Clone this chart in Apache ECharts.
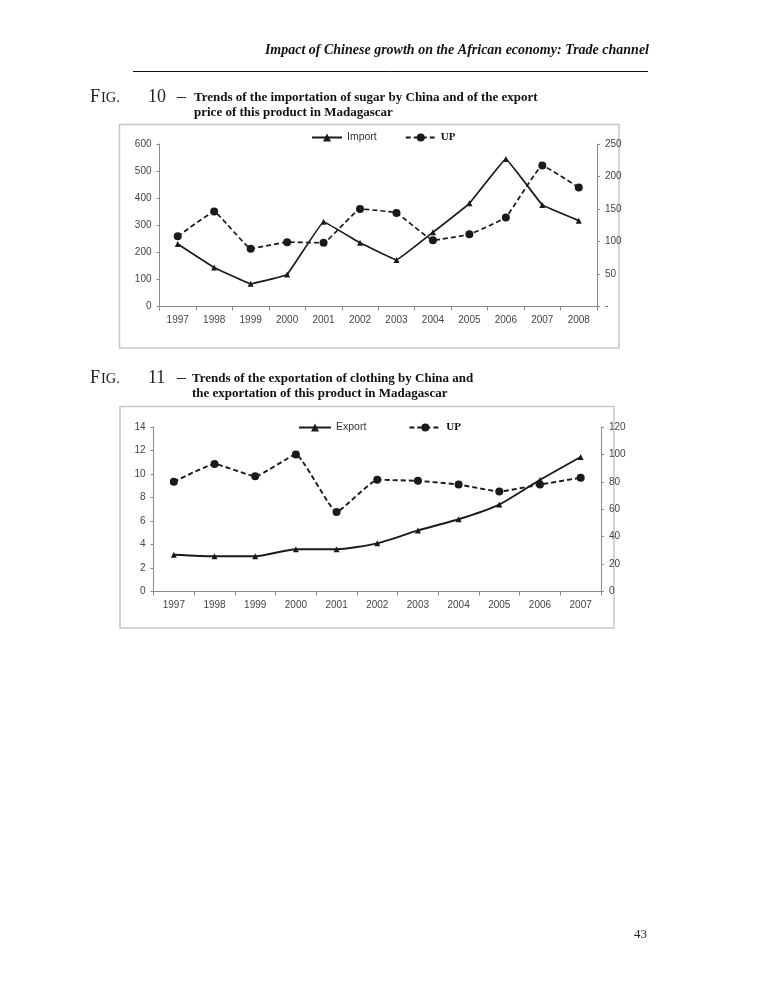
<!DOCTYPE html>
<html>
<head>
<meta charset="utf-8">
<script src="https://cdn.jsdelivr.net/npm/echarts@6/dist/echarts.min.js"></script>
<style>
html,body{margin:0;padding:0;background:#fff;}
#c{width:765px;height:990px;}
</style>
</head>
<body>
<div id="c"></div>
<script>
// ---- Data ----
const years1 = ['1997','1998','1999','2000','2001','2002','2003','2004','2005','2006','2007','2008'];
const importSugar = [231,144,84,118,313,235,172,274,381,545,375,317];
const upSugar = [108,146,89,99,98,150,144,102,111,137,217,183];

const years2 = ['1997','1998','1999','2000','2001','2002','2003','2004','2005','2006','2007'];
const exportClothing = [3.13,3.0,3.0,3.6,3.6,4.1,5.2,6.15,7.4,9.5,11.45];
const upClothing = [80,93,84,100,58,81.5,80.7,78,73,78,83];

const leftTicks1 = [0,100,200,300,400,500,600];
const rightTicks1 = [0,50,100,150,200,250];
const leftTicks2 = [0,2,4,6,8,10,12,14];
const rightTicks2 = [0,20,40,60,80,100,120];

// ---- Styles ----
const axisGray = '#8a8a8a';
const labelColor = '#444';
const labelFont = 'Liberation Sans';
const lineColor = '#1a1a1a';

function valAxis(gridIndex, ticks, position, fmt){
  return {
    type:'value', gridIndex, position,
    min: ticks[0], max: ticks[ticks.length-1], interval: ticks[1]-ticks[0],
    axisLine:{show:true, lineStyle:{color:axisGray, width:1}},
    axisTick:{show:true, length:3, lineStyle:{color:axisGray}},
    splitLine:{show:false},
    axisLabel:{color:labelColor, fontFamily:labelFont, fontSize:10, margin:8, formatter: fmt}
  };
}
function catAxis(gridIndex, cats){
  return {
    type:'category', gridIndex, data:cats, boundaryGap:true,
    axisLine:{show:true, lineStyle:{color:axisGray, width:1}},
    axisTick:{show:true, length:4, alignWithLabel:false, lineStyle:{color:axisGray}},
    axisLabel:{color:labelColor, fontFamily:labelFont, fontSize:10, margin:9}
  };
}
const legendRich = {
  s:{fontFamily:'Liberation Sans', fontSize:10.5, color:'#333'},
  t:{fontFamily:'Liberation Serif', fontSize:11, fontWeight:'bold', color:'#111'}
};
function legendFmt(n){
  if (n.indexOf('UP')===0) return '{t|UP}';
  return '{s|'+n+'}';
}
const serif = '"Liberation Serif"';
function figLabel(num, top){
  return [
    {type:'text', left:90, top:top, style:{text:'F', font:'18px '+serif, fill:'#222'}},
    {type:'text', left:101, top:top+3, style:{text:'IG.', font:'14.5px '+serif, fill:'#222'}},
    {type:'text', left:148, top:top, style:{text:num, font:'18px '+serif, fill:'#222'}},
    {type:'text', left:177, top:top, style:{text:'–', font:'18px '+serif, fill:'#222'}}
  ];
}

const chart = echarts.init(document.getElementById('c'), null, {renderer:'canvas'});
const option = {
  backgroundColor:'#fff',
  animation:false,
  grid:[
    {left:159.5, right:168, top:144, bottom:683.5},
    {left:153.5, right:164, top:427, bottom:398.5}
  ],
  legend:[
    {left:311, top:132, padding:0, itemWidth:30, itemHeight:10, itemGap:28, data:['Import','UP'],
     formatter:legendFmt, textStyle:{rich:legendRich}},
    {left:298, top:422, padding:0, itemWidth:32, itemHeight:10, itemGap:42, data:['Export','UP2'],
     formatter:legendFmt, textStyle:{rich:legendRich}}
  ],
  xAxis:[catAxis(0, years1), catAxis(1, years2)],
  yAxis:[
    valAxis(0, leftTicks1, 'left'),
    valAxis(0, rightTicks1, 'right', v => v===0 ? '-' : String(v)),
    valAxis(1, leftTicks2, 'left'),
    valAxis(1, rightTicks2, 'right')
  ],
  series:[
    {name:'Import', type:'line', xAxisIndex:0, yAxisIndex:0, data:importSugar, smooth:0.05,
     symbol:'triangle', symbolSize:6, lineStyle:{color:lineColor, width:1.7}, itemStyle:{color:lineColor}},
    {name:'UP', type:'line', xAxisIndex:0, yAxisIndex:1, data:upSugar, smooth:0.08,
     symbol:'circle', symbolSize:8, lineStyle:{color:lineColor, width:1.7, type:[5,3]}, itemStyle:{color:lineColor}},
    {name:'Export', type:'line', xAxisIndex:1, yAxisIndex:2, data:exportClothing, smooth:0.2,
     symbol:'triangle', symbolSize:6, lineStyle:{color:lineColor, width:1.9}, itemStyle:{color:lineColor}},
    {name:'UP2', type:'line', xAxisIndex:1, yAxisIndex:3, data:upClothing, smooth:0.12,
     symbol:'circle', symbolSize:8, lineStyle:{color:lineColor, width:1.9, type:[5,3]}, itemStyle:{color:lineColor}}
  ],
  graphic:[
    {type:'text', right:116, top:43, style:{text:'Impact of Chinese growth on the African economy: Trade channel',
      font:'italic bold 14px "Liberation Serif"', fill:'#111'}},
    {type:'line', shape:{x1:133, y1:71.5, x2:648, y2:71.5}, style:{stroke:'#111', lineWidth:1}},
    ...figLabel('10', 88),
    {type:'text', left:194, top:90, style:{text:'Trends of the importation of sugar by China and of the export\nprice of this product in Madagascar',
      font:'bold 13px "Liberation Serif"', lineHeight:15, fill:'#111'}},
    {type:'rect', shape:{x:119.5, y:124.5, width:499.5, height:223.5}, style:{fill:'none', stroke:'#c8c8c8', lineWidth:1.5}},
    ...figLabel('11', 369),
    {type:'text', left:192, top:371, style:{text:'Trends of the exportation of clothing by China and\nthe exportation of this product in Madagascar',
      font:'bold 13px "Liberation Serif"', lineHeight:15, fill:'#111'}},
    {type:'rect', shape:{x:120, y:406.5, width:494, height:221.5}, style:{fill:'none', stroke:'#c8c8c8', lineWidth:1.5}},
    {type:'text', left:634, top:928, style:{text:'43', font:'13px "Liberation Serif"', fill:'#222'}}
  ]
};
chart.setOption(option);
</script>
</body>
</html>
